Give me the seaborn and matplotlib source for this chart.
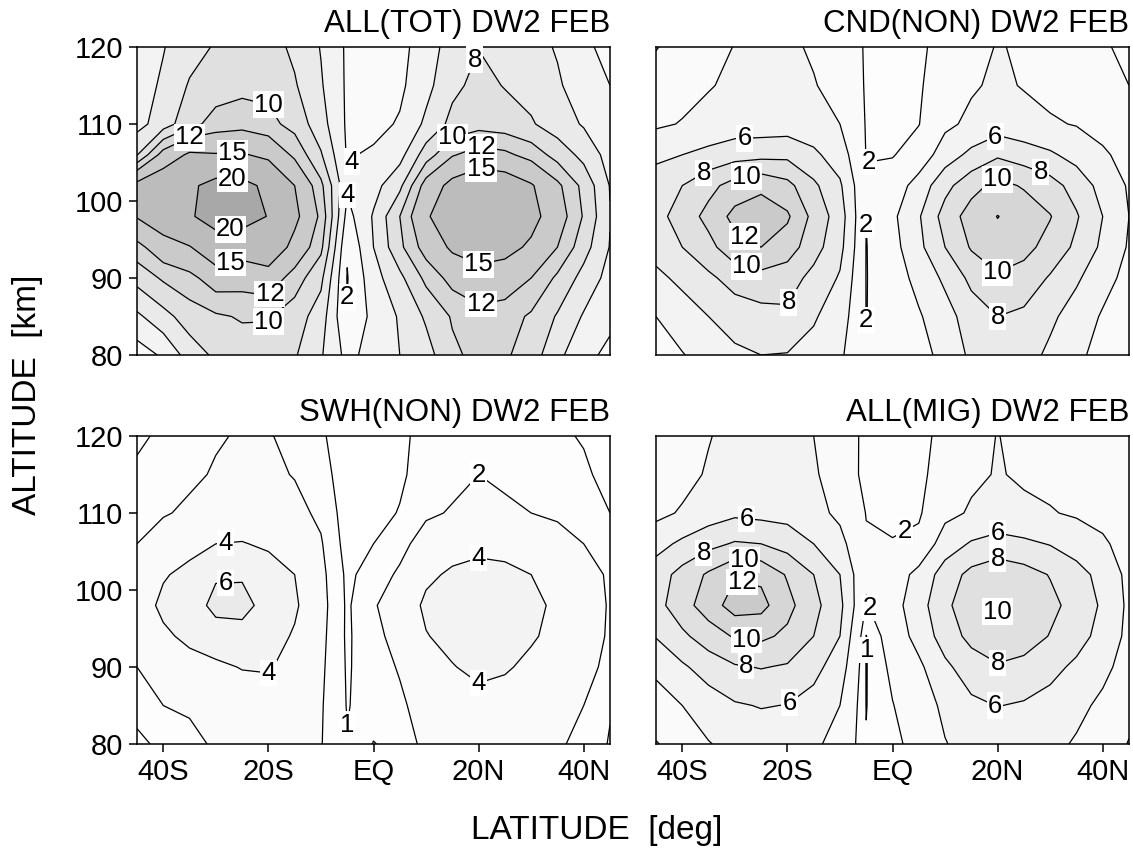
import numpy as np
import matplotlib
matplotlib.use("Agg")
import matplotlib.pyplot as plt
import seaborn as sns

# Latitude / altitude grid of the tidal amplitude tables
lat = [-45, -40, -35, -30, -25, -20, -15, -10, -5, 0, 5, 10, 15, 20, 25, 30, 35, 40, 45]
alt = [80, 85, 90, 94, 98, 102, 106, 110, 115, 120]

# Amplitudes: one row per latitude, values from 80 km up to 120 km
all_tot = [
    [3.0, 5.6, 8.7, 11.2, 15.2, 16.0, 7.9, 5.3, 5.1, 5.0],
    [4.3, 7.3, 10.3, 13.7, 17.0, 17.5, 13.0, 7.0, 6.3, 5.9],
    [6.9, 9.0, 11.3, 14.8, 19.5, 19.2, 15.5, 9.3, 8.2, 7.2],
    [8.4, 9.7, 13.3, 17.5, 22.0, 21.5, 15.2, 10.8, 9.0, 8.2],
    [9.0, 10.2, 13.0, 16.5, 22.3, 21.3, 15.3, 11.2, 9.4, 9.0],
    [8.7, 10.2, 13.5, 17.5, 19.8, 19.0, 14.2, 10.6, 9.4, 8.8],
    [8.2, 9.0, 11.0, 14.0, 15.8, 15.0, 11.5, 9.3, 8.2, 7.6],
    [6.2, 7.0, 8.5, 10.5, 11.5, 10.5, 8.2, 6.8, 6.2, 5.9],
    [3.4, 2.1, 1.9, 2.2, 3.3, 4.3, 3.8, 3.7, 3.7, 3.7],
    [4.8, 4.6, 5.2, 6.0, 6.2, 5.3, 4.3, 3.4, 3.0, 3.0],
    [6.0, 6.2, 7.5, 9.5, 10.0, 7.5, 5.3, 4.2, 3.6, 3.4],
    [7.2, 8.3, 10.5, 13.0, 14.6, 13.0, 9.0, 6.4, 5.4, 5.0],
    [9.6, 10.2, 12.8, 15.5, 17.2, 16.0, 11.8, 8.6, 7.5, 6.9],
    [10.6, 11.2, 13.8, 16.5, 18.0, 17.5, 13.0, 9.2, 8.6, 7.95],
    [10.3, 10.9, 13.4, 16.0, 17.6, 17.0, 12.5, 8.9, 7.9, 7.6],
    [9.0, 9.7, 12.0, 14.5, 16.0, 15.3, 11.2, 8.2, 7.3, 6.8],
    [6.5, 7.8, 9.6, 12.0, 13.3, 12.5, 9.2, 7.0, 6.3, 5.8],
    [4.6, 5.8, 7.3, 8.8, 9.8, 9.4, 7.4, 5.8, 4.8, 4.2],
    [3.5, 4.5, 5.3, 5.9, 6.1, 5.9, 5.2, 4.6, 4.0, 3.7],
]

cnd_non = [
    [3.0, 4.0, 5.5, 6.8, 7.3, 6.9, 5.6, 3.7, 2.9, 1.9],
    [3.9, 5.0, 6.5, 8.0, 8.9, 8.0, 6.0, 4.1, 3.4, 2.8],
    [4.8, 6.0, 7.6, 9.4, 10.6, 9.4, 6.6, 4.5, 3.9, 3.5],
    [5.6, 6.9, 8.8, 11.3, 12.6, 10.8, 7.2, 4.9, 4.3, 4.05],
    [6.0, 7.3, 9.3, 12.0, 13.0, 11.6, 7.4, 4.9, 4.6, 4.5],
    [5.9, 7.6, 8.9, 11.0, 12.3, 10.6, 7.5, 5.0, 4.6, 4.3],
    [5.4, 6.2, 7.4, 8.8, 9.4, 8.4, 6.4, 4.8, 4.1, 3.8],
    [4.3, 5.0, 5.8, 6.6, 7.0, 6.3, 5.0, 4.0, 3.4, 3.0],
    [2.3, 1.97, 1.95, 1.95, 2.02, 2.15, 1.95, 1.9, 1.85, 1.85],
    [2.7, 2.8, 3.0, 3.3, 3.6, 2.9, 1.9, 1.75, 1.6, 1.5],
    [3.3, 3.8, 4.6, 5.5, 5.8, 4.8, 2.8, 1.95, 1.8, 1.7],
    [4.6, 5.2, 6.4, 8.0, 8.8, 7.4, 5.0, 3.6, 3.0, 2.6],
    [6.4, 7.0, 8.5, 10.2, 10.9, 9.3, 6.5, 4.4, 3.8, 3.4],
    [7.2, 8.0, 9.7, 11.3, 12.05, 10.6, 7.7, 5.0, 4.3, 4.1],
    [6.8, 7.6, 9.2, 10.6, 11.2, 9.8, 7.0, 4.6, 3.9, 3.8],
    [5.6, 6.4, 7.8, 9.3, 10.1, 8.8, 6.3, 4.2, 3.5, 3.3],
    [4.5, 5.1, 6.3, 7.6, 8.2, 7.2, 5.3, 3.9, 3.2, 2.9],
    [3.2, 3.8, 4.7, 5.6, 6.0, 5.3, 4.3, 3.3, 2.5, 2.1],
    [2.2, 2.7, 3.4, 3.8, 4.0, 3.8, 3.3, 2.6, 2.0, 1.8],
]

swh_non = [
    [0.8, 1.3, 2.0, 2.4, 2.8, 2.5, 2.0, 1.6, 1.2, 0.8],
    [1.2, 2.0, 2.6, 3.6, 4.5, 3.8, 2.6, 1.9, 1.5, 1.2],
    [1.6, 2.2, 3.2, 4.5, 5.1, 4.6, 3.3, 2.2, 1.8, 1.6],
    [2.2, 2.6, 3.6, 5.2, 6.5, 5.8, 4.0, 2.6, 2.1, 1.9],
    [2.2, 2.8, 4.1, 5.3, 6.6, 5.8, 4.1, 2.8, 2.3, 2.1],
    [2.3, 2.9, 4.2, 4.8, 5.3, 4.9, 3.7, 2.7, 2.2, 2.05],
    [2.2, 2.6, 3.2, 3.8, 4.3, 4.0, 3.0, 2.3, 1.95, 1.8],
    [2.05, 2.1, 2.2, 2.3, 2.4, 2.3, 2.1, 1.8, 1.4, 1.15],
    [1.05, 0.95, 0.9, 0.85, 0.85, 0.8, 0.6, 0.5, 0.45, 0.4],
    [2.05, 1.4, 1.5, 1.7, 1.9, 1.4, 1.0, 0.7, 0.55, 0.5],
    [1.6, 1.8, 2.1, 2.4, 2.6, 2.2, 1.6, 1.05, 0.85, 0.8],
    [2.2, 2.5, 3.2, 3.9, 4.4, 3.6, 2.6, 1.8, 1.4, 1.3],
    [2.6, 3.0, 3.9, 4.6, 4.9, 4.3, 3.2, 2.1, 1.7, 1.5],
    [2.8, 3.3, 4.5, 4.8, 5.0, 4.6, 3.5, 2.4, 2.0, 1.7],
    [2.7, 3.2, 4.2, 4.7, 4.9, 4.5, 3.3, 2.2, 1.8, 1.6],
    [2.4, 2.8, 3.6, 4.2, 4.4, 4.0, 3.0, 2.0, 1.6, 1.4],
    [2.1, 2.4, 3.0, 3.5, 3.7, 3.3, 2.5, 1.8, 1.3, 1.1],
    [1.8, 2.0, 2.5, 2.8, 2.9, 2.6, 2.0, 1.4, 1.1, 0.95],
    [0.9, 1.1, 1.6, 1.8, 1.85, 1.8, 1.5, 1.0, 0.8, 0.7],
]

all_mig = [
    [1.9, 3.0, 4.5, 6.1, 7.3, 7.0, 5.3, 3.5, 2.6, 2.0],
    [2.7, 4.0, 5.7, 7.6, 9.2, 8.7, 6.4, 4.2, 3.4, 3.0],
    [3.9, 5.0, 6.9, 9.0, 11.0, 10.3, 7.4, 5.0, 4.2, 3.9],
    [4.6, 5.8, 7.8, 10.2, 12.9, 11.8, 8.2, 5.6, 5.0, 4.6],
    [4.9, 6.1, 8.1, 10.4, 12.6, 11.6, 8.0, 5.4, 5.2, 4.9],
    [4.8, 5.95, 7.8, 9.6, 10.6, 9.8, 7.2, 5.3, 4.8, 4.6],
    [4.3, 5.3, 6.6, 8.0, 8.6, 8.0, 6.0, 4.6, 4.2, 4.0],
    [3.4, 4.0, 5.0, 6.0, 6.5, 6.0, 4.6, 3.6, 3.2, 3.0],
    [1.05, 0.97, 0.95, 0.97, 1.9, 2.2, 2.15, 1.95, 1.5, 1.6],
    [1.8, 1.95, 2.3, 2.8, 3.2, 2.9, 2.1, 1.6, 1.3, 1.3],
    [2.3, 2.8, 3.6, 4.7, 5.2, 4.6, 2.4, 1.8, 1.6, 1.6],
    [3.9, 4.5, 5.6, 6.9, 7.5, 6.9, 5.0, 3.5, 2.8, 2.4],
    [4.8, 5.6, 7.0, 8.6, 9.4, 8.6, 6.2, 4.2, 3.7, 3.4],
    [5.2, 6.05, 7.8, 9.4, 10.15, 9.3, 6.8, 4.5, 4.1, 4.05],
    [5.0, 5.8, 7.4, 9.0, 9.7, 8.8, 6.4, 4.3, 3.8, 3.5],
    [4.5, 5.3, 6.6, 7.9, 8.5, 7.9, 5.9, 4.1, 3.6, 3.3],
    [3.8, 4.5, 5.6, 6.8, 7.3, 6.8, 5.0, 3.8, 3.4, 3.2],
    [3.1, 3.6, 4.5, 5.3, 5.7, 5.3, 4.3, 3.4, 3.1, 2.9],
    [1.9, 2.6, 3.2, 3.5, 3.6, 3.5, 3.2, 2.9, 2.8, 2.6],
]

titles = ["ALL(TOT) DW2 FEB", "CND(NON) DW2 FEB", "SWH(NON) DW2 FEB", "ALL(MIG) DW2 FEB"]

line_levels = [1, 2, 4, 6, 8, 10, 12, 15, 20]
fill_bounds = [0, 1, 2, 4, 6, 8, 10, 12, 15, 20, 40]
fill_greys = ["#ffffff", "#fdfdfd", "#fafafa", "#f3f3f3", "#eaeaea",
              "#e0e0e0", "#d6d6d6", "#cacaca", "#bcbcbc", "#a8a8a8"]

lat_ticks = [-40, -20, 0, 20, 40]
lat_tick_labels = ["40S", "20S", "EQ", "20N", "40N"]
alt_ticks = [80, 90, 100, 110, 120]

# where each contour label sits: (level, latitude, altitude)
label_spots = [
    [(8, 20, 118.3), (10, -20, 112.5), (12, -35, 108.0), (15, -27, 106.5),
     (20, -27, 103.8), (20, -27, 95.6), (15, -27, 91.0), (12, -20, 88.1),
     (10, -20, 84.2), (4, -4, 105.1), (4, -4, 101.3), (2, -4, 86.1),
     (10, 12.5, 110.0), (12, 20.4, 107.8), (15, 20.4, 105.1),
     (15, 20.4, 90.8), (12, 20.4, 86.5)],
    [(6, -28, 108.1), (8, -37, 105.0), (10, -28, 104.2), (12, -28, 95.7),
     (10, -28, 91.2), (8, -20, 87.1), (2, -4, 103.8), (2, -4, 97.3),
     (2, -4, 83.2), (6, 20, 108.1), (8, 29, 105.0), (10, 20, 103.2),
     (10, 20, 90.4), (8, 20, 83.9)],
    [(4, -28, 106.0), (6, -28, 101.0), (4, -20, 89.2), (1, -4, 82.1),
     (2, 20, 114.7), (4, 20, 104.8), (4, 20, 86.9)],
    [(6, -28, 108.7), (8, -37, 106.0), (10, -28, 104.8), (12, -28, 102.1),
     (10, -28, 93.0), (8, -28, 89.9), (6, -20, 85.6), (2, 3.7, 106.2),
     (2, -4, 97.7), (1, -4, 92.1), (6, 20, 107.4), (8, 20, 104.4),
     (10, 20, 96.8), (8, 20, 90.1), (6, 20, 85.4)],
]

sns.set_theme(style="ticks")
plt.rcParams["font.family"] = ["Liberation Sans", "DejaVu Sans"]
plt.rcParams["axes.linewidth"] = 1.1


def label_contour(ax, cs, level, x, y):
    """Put a boxed level label on the contour line nearest to (x, y)."""
    levels = [float(v) for v in cs.levels]
    if float(level) not in levels:
        return
    path = cs.get_paths()[levels.index(float(level))]
    pts = []
    for poly in path.to_polygons(closed_only=False):
        if len(poly) < 2:
            continue
        for a, b in zip(poly[:-1], poly[1:]):
            t = np.linspace(0.0, 1.0, 12)[:, None]
            pts.append(a + (b - a) * t)
    if not pts:
        return
    pts = np.vstack(pts)
    pix = ax.transData.transform(pts)
    p0 = ax.transData.transform([(x, y)])[0]
    j = int(np.argmin(((pix - p0) ** 2).sum(axis=1)))
    ax.text(pts[j, 0], pts[j, 1], f"{level:g}", ha="center", va="center",
            fontsize=18.5, color="black", zorder=5,
            bbox=dict(facecolor="white", edgecolor="none", pad=0.9))


W, H = 1133, 855
fig = plt.figure(figsize=(W / 100, H / 100), dpi=100)
fig.patch.set_facecolor("white")

# axes boxes in pixels: (left, top, right, bottom)
boxes = [(137, 47, 610, 355), (656, 47, 1129, 355),
         (137, 436, 610, 744), (656, 436, 1129, 744)]

tables = [all_tot, cnd_non, swh_non, all_mig]

for k, (table, title, spots, box) in enumerate(zip(tables, titles, label_spots, boxes)):
    l, t, r, b = box
    ax = fig.add_axes([l / W, 1 - b / H, (r - l) / W, (b - t) / H])
    ax.set_xlim(-45, 45)
    ax.set_ylim(80, 120)
    Z = np.array(table, dtype=float).T
    ax.contourf(lat, alt, Z, levels=fill_bounds, colors=fill_greys, antialiased=True)
    cs = ax.contour(lat, alt, Z, levels=line_levels, colors="black", linewidths=0.9)
    for lev, x, y in spots:
        label_contour(ax, cs, lev, x, y)

    for s in ax.spines.values():
        s.set_color("black")
        s.set_linewidth(1.1)
    ax.tick_params(direction="out", length=6, width=1.1, color="black",
                   labelsize=21, labelcolor="black", pad=4)
    ax.set_xticks(lat_ticks)
    ax.set_yticks(alt_ticks)
    if k < 2:
        ax.tick_params(axis="x", bottom=False, labelbottom=False)
    else:
        ax.set_xticklabels(lat_tick_labels)
    if k % 2 == 1:
        ax.tick_params(axis="y", left=False, labelleft=False)
    ax.set_title(title, loc="right", fontsize=22.5, pad=11, color="black")

fig.text(28 / W, 1 - 395 / H, "ALTITUDE  [km]", rotation=90, ha="center",
         va="center", fontsize=24, color="black")
fig.text(597 / W, 1 - 830 / H, "LATITUDE  [deg]", ha="center", va="center",
         fontsize=24, color="black")

fig.savefig("out.png", dpi=100, facecolor="white")
